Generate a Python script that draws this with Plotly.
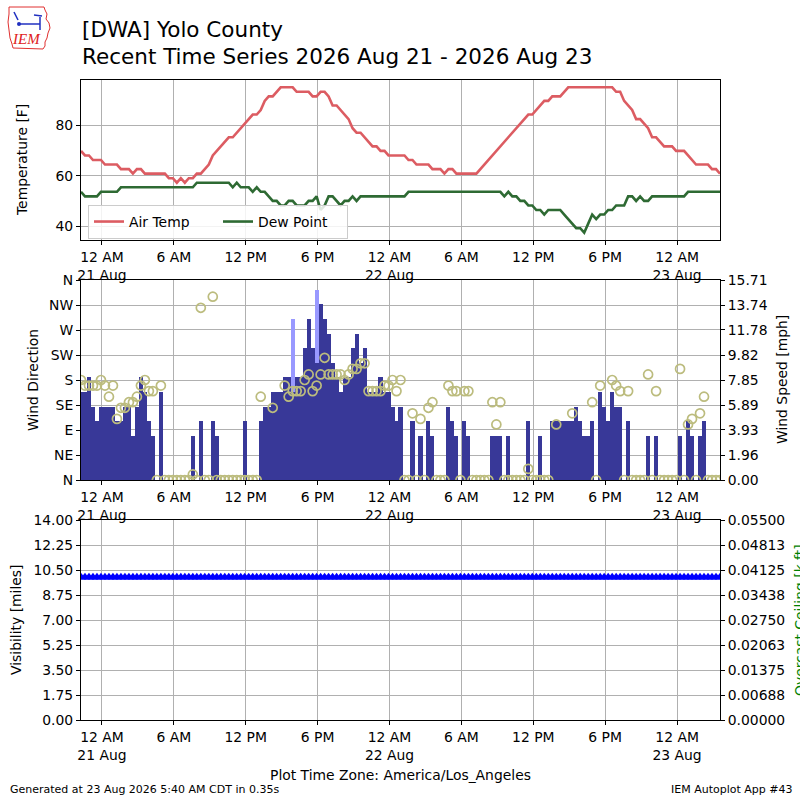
import pandas as pd
import plotly.graph_objects as go

# ---------------- data ----------------
START = "2026-08-20 22:15"
N_OBS = 161
STEP = "20min"

# air temperature [C] (AWOS whole degrees), every 20 minutes
temp_c = [
    21, 20, 20, 19, 19, 19, 18, 18, 18, 18,
    17, 17, 17, 16, 17, 17, 16, 16, 16, 16,
    16, 16, 15, 15, 14, 15, 14, 15, 15, 16,
    16, 17, 18, 20, 21, 22, 23, 24, 24, 25,
    26, 27, 28, 29, 29, 30, 32, 33, 33, 34,
    35, 35, 35, 35, 34, 34, 34, 34, 33, 33,
    34, 34, 33, 31, 31, 30, 29, 28, 26, 25,
    25, 24, 23, 22, 22, 21, 21, 20, 20, 20,
    20, 20, 19, 19, 18, 18, 18, 18, 17, 17,
    17, 16, 17, 17, 16, 16, 16, 16, 16, 16,
    17, 18, 19, 20, 21, 22, 23, 24, 25, 26,
    27, 28, 29, 29, 30, 31, 32, 32, 33, 33,
    33, 34, 35, 35, 35, 35, 35, 35, 35, 35,
    35, 35, 35, 35, 34, 34, 32, 31, 30, 28,
    28, 27, 26, 24, 24, 23, 22, 22, 22, 21,
    21, 21, 20, 19, 18, 18, 18, 18, 17, 17,
    16,
]

# dew point [C]
dwpt_c = [
    12, 11, 11, 11, 11, 12, 12, 12, 12, 12,
    13, 13, 13, 13, 13, 13, 13, 13, 13, 13,
    13, 13, 13, 13, 13, 13, 13, 13, 13, 14,
    14, 14, 14, 14, 14, 14, 14, 14, 13, 14,
    13, 13, 13, 12, 13, 12, 12, 11, 10, 10,
    9, 9, 10, 10, 9, 9, 9, 10, 10, 11,
    8, 9, 11, 11, 10, 9, 10, 10, 11, 10,
    11, 11, 11, 11, 11, 11, 11, 11, 11, 11,
    11, 11, 12, 12, 12, 12, 12, 12, 12, 12,
    12, 12, 12, 12, 12, 12, 12, 12, 12, 12,
    12, 12, 12, 12, 12, 12, 11, 12, 11, 11,
    10, 10, 9, 9, 8, 8, 7, 8, 8, 8,
    8, 7, 6, 5, 4, 4, 3, 5, 7, 6,
    7, 7, 8, 8, 9, 9, 9, 11, 11, 10,
    11, 10, 10, 11, 11, 11, 11, 11, 11, 11,
    11, 11, 12, 12, 12, 12, 12, 12, 12, 12,
    12,
]

# sustained wind speed [knots]
sknt = [
    6, 6, 7, 5, 4, 5, 5, 5, 5, 4,
    4, 5, 5, 3, 5, 7, 6, 4, 3, 0,
    6, 0, 0, 0, 0, 0, 0, 0, 3, 0,
    4, 0, 0, 4, 3, 0, 0, 0, 0, 0,
    0, 4, 0, 0, 0, 4, 5, 5, 6, 6,
    6, 7, 7, 6, 7, 7, 9, 11, 9, 8,
    12, 11, 10, 8, 7, 6, 7, 7, 9, 10,
    8, 9, 6, 6, 6, 7, 6, 6, 5, 4,
    5, 0, 0, 4, 0, 3, 0, 4, 3, 0,
    0, 0, 5, 4, 3, 0, 4, 3, 0, 0,
    0, 0, 0, 3, 3, 3, 0, 3, 0, 0,
    0, 0, 4, 0, 0, 3, 0, 0, 4, 4,
    4, 4, 4, 4, 5, 4, 3, 3, 4, 0,
    6, 5, 4, 6, 5, 5, 0, 4, 0, 0,
    0, 0, 3, 0, 3, 0, 0, 0, 0, 0,
    3, 0, 4, 3, 0, 3, 4, 0, 0, 0,
    0,
]

# wind gusts [knots]
gust_times = ["2026-08-21 15:55", "2026-08-21 17:55"]
gust_kt = [11, 13]

# wind direction [deg], None = not reported
drct = [
    180, 170, 170, 170, 170, 180, 170, 150, 170, 110,
    130, 130, 140, 140, 150, 170, 180, 160, 160, 0,
    170, 0, 0, 0, 0, 0, 0, 0, 10, 0,
    310, 0, 0, 330, 0, 0, 0, 0, 0, 0,
    0, 0, 0, 0, 0, 150, None, None, 130, None,
    None, 170, 150, 160, 160, 160, 180, 190, 160, 170,
    190, 220, 190, 190, 190, 190, 180, 190, 200, 200,
    210, 210, 160, 160, 160, 160, 170, 170, 180, 160,
    180, 0, 0, 120, 0, 110, 0, 130, 140, 0,
    0, 0, 170, 160, 160, 0, 160, 160, 0, 0,
    0, 0, 0, 140, 100, 140, 0, 0, 0, 0,
    0, 0, 20, 0, 0, 0, 0, 0, None, 100,
    None, None, None, 120, None, None, None, None, 140, 0,
    170, None, None, 180, 170, 160, 0, 160, 0, 0,
    0, 0, 190, 0, 160, 0, 0, 0, 0, 0,
    200, 0, 100, 110, 0, 120, 150, 0, 0, 0,
    0,
]

# visibility [miles]
vsby = [
    10.0, 10.0, 10.0, 10.0, 10.0, 10.0, 10.0, 10.0, 10.0, 10.0,
    10.0, 10.0, 10.0, 10.0, 10.0, 10.0, 10.0, 10.0, 10.0, 10.0,
    10.0, 10.0, 10.0, 10.0, 10.0, 10.0, 10.0, 10.0, 10.0, 10.0,
    10.0, 10.0, 10.0, 10.0, 10.0, 10.0, 10.0, 10.0, 10.0, 10.0,
    10.0, 10.0, 10.0, 10.0, 10.0, 10.0, 10.0, 10.0, 10.0, 10.0,
    10.0, 10.0, 10.0, 10.0, 10.0, 10.0, 10.0, 10.0, 10.0, 10.0,
    10.0, 10.0, 10.0, 10.0, 10.0, 10.0, 10.0, 10.0, 10.0, 10.0,
    10.0, 10.0, 10.0, 10.0, 10.0, 10.0, 10.0, 10.0, 10.0, 10.0,
    10.0, 10.0, 10.0, 10.0, 10.0, 10.0, 10.0, 10.0, 10.0, 10.0,
    10.0, 10.0, 10.0, 10.0, 10.0, 10.0, 10.0, 10.0, 10.0, 10.0,
    10.0, 10.0, 10.0, 10.0, 10.0, 10.0, 10.0, 10.0, 10.0, 10.0,
    10.0, 10.0, 10.0, 10.0, 10.0, 10.0, 10.0, 10.0, 10.0, 10.0,
    10.0, 10.0, 10.0, 10.0, 10.0, 10.0, 10.0, 10.0, 10.0, 10.0,
    10.0, 10.0, 10.0, 10.0, 10.0, 10.0, 10.0, 10.0, 10.0, 10.0,
    10.0, 10.0, 10.0, 10.0, 10.0, 10.0, 10.0, 10.0, 10.0, 10.0,
    10.0, 10.0, 10.0, 10.0, 10.0, 10.0, 10.0, 10.0, 10.0, 10.0,
    10.0,
]

# ticks
x_tickvals = ["2026-08-21 00:00", "2026-08-21 06:00", "2026-08-21 12:00",
              "2026-08-21 18:00", "2026-08-22 00:00", "2026-08-22 06:00",
              "2026-08-22 12:00", "2026-08-22 18:00", "2026-08-23 00:00"]
x_ticktext = ["12 AM<br>21 Aug", "6 AM", "12 PM", "6 PM", "12 AM<br>22 Aug",
              "6 AM", "12 PM", "6 PM", "12 AM<br>23 Aug"]
temp_ticks = [40, 60, 80]
drct_ticks = [0, 45, 90, 135, 180, 225, 270, 315, 360]
drct_labels = ["N", "NE", "E", "SE", "S", "SW", "W", "NW", "N"]
speed_ticks = [0.0, 1.964, 3.928, 5.891, 7.855, 9.819, 11.783, 13.746, 15.71]
speed_labels = ["0.00", "1.96", "3.93", "5.89", "7.85", "9.82", "11.78", "13.74", "15.71"]
vis_ticks = [0.0, 1.75, 3.5, 5.25, 7.0, 8.75, 10.5, 12.25, 14.0]
vis_labels = ["0.00", "1.75", "3.50", "5.25", "7.00", "8.75", "10.50", "12.25", "14.00"]
ceil_ticks = [0.0, 0.006875, 0.01375, 0.020625, 0.0275, 0.034375, 0.04125, 0.048125, 0.055]
ceil_labels = ["0.00000", "0.00688", "0.01375", "0.02063", "0.02750",
               "0.03438", "0.04125", "0.04813", "0.05500"]

# ---------------- styling ----------------
FONT = "DejaVu Sans"
TEMP_COLOR = "#dc5c62"
DWPT_COLOR = "#2e6a33"
SPEED_COLOR = "#383898"
GUST_COLOR = "#9999ff"
DRCT_COLOR = "#bcbc7e"
GRID = "#b0b0b0"
KT2MPH = 1.15078
W, H = 800, 800


def px(x):
    return x / W


def py(y):
    return 1 - y / H


X_DOM = [px(81), px(720)]

t = pd.date_range(START, periods=N_OBS, freq=STEP)
temp_f = [c * 9 / 5 + 32 for c in temp_c]
dwpt_f = [c * 9 / 5 + 32 for c in dwpt_c]
speed_mph = [k * KT2MPH for k in sknt]
gust_mph = [k * KT2MPH for k in gust_kt]
BAR_W = 20.4 * 60 * 1000  # ms

fig = go.Figure()
fig.add_trace(go.Scatter(x=t, y=temp_f, mode="lines", name="Air Temp",
                         line=dict(color=TEMP_COLOR, width=2.6), xaxis="x", yaxis="y"))
fig.add_trace(go.Scatter(x=t, y=dwpt_f, mode="lines", name="Dew Point",
                         line=dict(color=DWPT_COLOR, width=2.6), xaxis="x", yaxis="y"))

fig.add_trace(go.Bar(x=pd.to_datetime(gust_times), y=gust_mph, width=BAR_W,
                     marker=dict(color=GUST_COLOR, line=dict(width=0)),
                     xaxis="x2", yaxis="y2", showlegend=False))
fig.add_trace(go.Bar(x=t, y=speed_mph, width=BAR_W,
                     marker=dict(color=SPEED_COLOR, line=dict(width=0)),
                     xaxis="x2", yaxis="y2", showlegend=False))
fig.add_trace(go.Scatter(x=t, y=drct, mode="markers",
                         marker=dict(symbol="circle-open", size=9, color=DRCT_COLOR,
                                     line=dict(width=1.7, color=DRCT_COLOR)),
                         xaxis="x2", yaxis="y3", showlegend=False))

fig.add_trace(go.Scatter(x=t, y=vsby, mode="lines+markers",
                         marker=dict(symbol="triangle-up", size=9, color="#0000ff"),
                         line=dict(color="#0000ff", width=1),
                         xaxis="x3", yaxis="y4", showlegend=False))
fig.add_trace(go.Scatter(x=[t[0]], y=[None], mode="lines",
                         xaxis="x3", yaxis="y5", showlegend=False))

tickfont = dict(family=FONT, size=13.9, color="black")


def xax(anchor):
    return dict(type="date", domain=X_DOM, anchor=anchor, range=[t[0], t[-1]],
                tickmode="array", tickvals=x_tickvals, ticktext=x_ticktext,
                showgrid=True, gridcolor=GRID, gridwidth=1, zeroline=False,
                showline=True, linecolor="black", linewidth=1, mirror=True,
                ticks="outside", ticklen=4, tickcolor="black", tickfont=tickfont,
                automargin=False)


def yax(**kw):
    d = dict(zeroline=False, showline=True, linecolor="black", linewidth=1,
             ticks="outside", ticklen=4, tickcolor="black", tickfont=tickfont,
             automargin=False, tickmode="array")
    d.update(kw)
    return d


fig.update_layout(
    width=W, height=H, autosize=False, template="none",
    margin=dict(l=0, r=0, t=0, b=0, pad=0),
    paper_bgcolor="white", plot_bgcolor="white",
    font=dict(family=FONT, color="black"),
    barmode="overlay", bargap=0,
    xaxis=xax("y"),
    xaxis2=xax("y2"),
    xaxis3=xax("y4"),
    yaxis=yax(domain=[py(240), py(80)], anchor="x", range=[34.52, 97.88],
              tickvals=temp_ticks, showgrid=True, gridcolor=GRID, mirror=True),
    yaxis2=yax(domain=[py(480), py(280)], anchor="x2", side="right", range=[0, 15.71],
               tickvals=speed_ticks, ticktext=speed_labels, showgrid=True, gridcolor=GRID),
    yaxis3=yax(overlaying="y2", anchor="x2", side="left", range=[0, 360],
               tickvals=drct_ticks, ticktext=drct_labels, showgrid=False),
    yaxis4=yax(domain=[py(720), py(520)], anchor="x3", side="left", range=[0, 14],
               tickvals=vis_ticks, ticktext=vis_labels, showgrid=True, gridcolor=GRID),
    yaxis5=yax(overlaying="y4", anchor="x3", side="right", range=[0, 0.055],
               tickvals=ceil_ticks, ticktext=ceil_labels, showgrid=False),
    legend=dict(orientation="h", x=px(88), y=py(205), xanchor="left", yanchor="top",
                bgcolor="rgba(255,255,255,0.85)", bordercolor="#cccccc", borderwidth=1,
                font=dict(family=FONT, size=13.9, color="black"),
                itemwidth=30, tracegroupgap=0,
                entrywidth=84, entrywidthmode="pixels"),
)


def ann(text, x, y, size=13.9, color="black", angle=0, xanchor="center",
        yanchor="middle", family=FONT):
    fig.add_annotation(text=text, x=px(x), y=py(y), xref="paper", yref="paper",
                       showarrow=False, textangle=angle, xanchor=xanchor,
                       yanchor=yanchor, font=dict(family=family, size=size, color=color))


ann("[DWA] Yolo County", 80, 30, size=21.5, xanchor="left")
ann("Recent Time Series 2026 Aug 21 - 2026 Aug 23", 80, 56, size=21.5, xanchor="left")
ann("Temperature [F]", 22, 160, angle=-90)
ann("Wind Direction", 33, 380, angle=-90)
ann("Wind Speed [mph]", 782, 380, angle=-90)
ann("Visibility [miles]", 16, 620, angle=-90)
ann("Overcast Ceiling [k ft]", 800, 620, angle=-90, color="#008000")
ann("Plot Time Zone: America/Los_Angeles", 400, 775)
ann("Generated at 23 Aug 2026 5:40 AM CDT in 0.35s", 8, 789, size=11, xanchor="left")
ann("IEM Autoplot App #43", 795, 789, size=11, xanchor="right")

# IEM logo (approximate)
outline = [(9, 7), (44, 7), (45, 10), (47, 14), (46, 19), (49, 23), (50, 28), (48, 33),
           (47, 38), (45, 42), (45, 46), (43, 49), (13, 48), (12, 44), (10, 38), (9, 30),
           (8, 22), (9, 14)]
path = "M " + " L ".join(f"{px(a):.5f},{py(b):.5f}" for a, b in outline) + " Z"
fig.add_shape(type="path", path=path, xref="paper", yref="paper",
              line=dict(color="#e03030", width=1))
blue = [[(18, 24), (40, 24)], [(40, 17), (40, 30)], [(34, 15), (42, 16)], [(14, 12), (18, 20)]]
for seg in blue:
    (a, b), (c, d) = seg
    fig.add_shape(type="line", x0=px(a), y0=py(b), x1=px(c), y1=py(d),
                  xref="paper", yref="paper", line=dict(color="#2030c0", width=1.5))
fig.add_shape(type="circle", x0=px(17), y0=py(26), x1=px(21), y1=py(22),
              xref="paper", yref="paper", fillcolor="#2030c0", line=dict(width=0))
ann("<i>IEM</i>", 26, 39, size=15, color="#e02020", family="Liberation Serif")

fig.write_html("out.html",
               config={"displayModeBar": False},
               post_script="document.body.style.margin='0px';"
                           "document.body.style.overflow='hidden';")
